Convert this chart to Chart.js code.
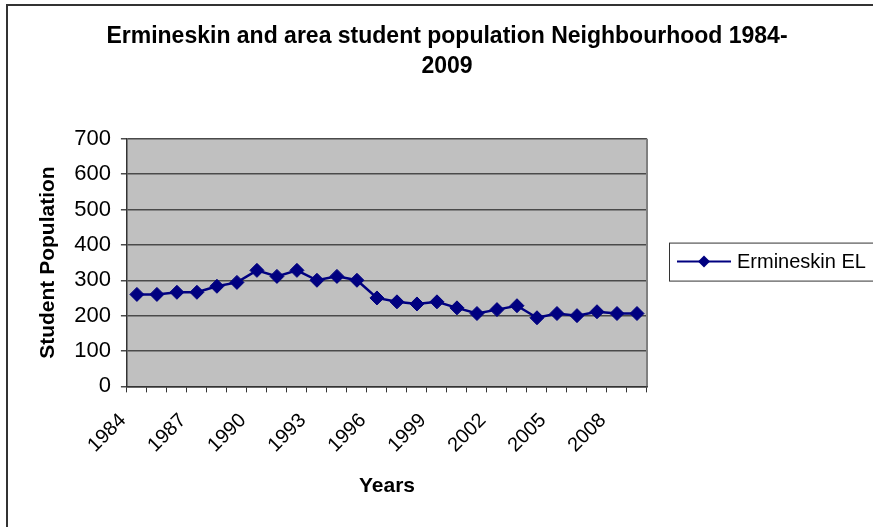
<!DOCTYPE html>
<html>
<head>
<meta charset="utf-8">
<script src="https://cdn.jsdelivr.net/npm/chart.js@4/dist/chart.umd.min.js"></script>
<style>
  html, body { margin: 0; padding: 0; background: #fff; }
  #wrap { width: 873px; height: 527px; }
</style>
</head>
<body>
<div id="wrap"><canvas id="chart" width="873" height="527"></canvas></div>
<script>
// years on the x axis
const years = ["1984", "1985", "1986", "1987", "1988", "1989", "1990", "1991", "1992",
    "1993", "1994", "1995", "1996", "1997", "1998", "1999", "2000", "2001",
    "2002", "2003", "2004", "2005", "2006", "2007", "2008", "2009"];
// student counts
const students = [260, 260, 266, 266, 283, 294, 328, 311, 328, 300, 311, 300, 250,
    239, 233, 239, 222, 206, 217, 228, 194, 206, 200, 211, 206, 206];
const seriesName = "Ermineskin EL";
const titleLines = ["Ermineskin and area student population Neighbourhood 1984-", "2009"];

const FONT = "'Liberation Sans', Arial, sans-serif";
const NAVY = "#000080";

// grey plot background + outer frame
const backdrop = {
    id: "backdrop",
    beforeDraw(chart) {
        const c = chart.ctx, a = chart.chartArea;
        c.save();
        c.fillStyle = "#c0c0c0";
        c.fillRect(a.left, a.top, a.right - a.left, a.bottom - a.top);
        c.strokeStyle = "#333";
        c.lineWidth = 2;
        c.strokeRect(7, 5, 900, 600);
        c.restore();
    },
    afterDatasetsDraw(chart) {
        const c = chart.ctx, a = chart.chartArea;
        c.save();
        c.strokeStyle = "#808080";
        c.lineWidth = 2;
        c.beginPath();
        c.moveTo(a.right, a.top);
        c.lineTo(a.right, a.bottom);
        c.stroke();
        c.restore();
    }
};

// legend box like the spreadsheet one (line with diamond)
const boxLegend = {
    id: "boxLegend",
    afterDraw(chart) {
        const c = chart.ctx, a = chart.chartArea;
        const ds = chart.data.datasets[0];
        const x = a.right + 22, y = (a.top + a.bottom) / 2 - 20;
        c.save();
        c.strokeStyle = "#333";
        c.lineWidth = 1;
        c.strokeRect(x + 0.5, y + 0.5, 210, 38);
        c.strokeStyle = ds.borderColor;
        c.lineWidth = 2;
        c.beginPath();
        c.moveTo(x + 8, y + 19);
        c.lineTo(x + 62, y + 19);
        c.stroke();
        c.fillStyle = ds.pointBackgroundColor;
        c.beginPath();
        c.moveTo(x + 35, y + 13);
        c.lineTo(x + 41, y + 19);
        c.lineTo(x + 35, y + 25);
        c.lineTo(x + 29, y + 19);
        c.closePath();
        c.fill();
        c.fillStyle = "#000";
        c.font = "20px " + FONT;
        c.textBaseline = "middle";
        c.fillText(ds.label, x + 68, y + 20);
        c.restore();
    }
};

new Chart(document.getElementById("chart").getContext("2d"), {
    type: "line",
    data: {
        labels: years,
        datasets: [{
            label: seriesName,
            data: students,
            borderColor: NAVY,
            borderWidth: 2.5,
            pointStyle: "rectRot",
            pointRadius: 7,
            pointBackgroundColor: NAVY,
            pointBorderColor: NAVY,
            pointBorderWidth: 1,
            tension: 0
        }]
    },
    options: {
        responsive: false,
        animation: false,
        layout: { padding: { left: 32, right: 11, top: 0, bottom: 24 } },
        plugins: {
            legend: { display: false },
            tooltip: { enabled: false },
            title: {
                display: true,
                text: titleLines,
                color: "#000",
                font: { family: FONT, size: 23, weight: "bold", lineHeight: 1.3 },
                padding: { top: 22, bottom: 57 }
            }
        },
        scales: {
            x: {
                offset: true,
                grid: { display: true, drawOnChartArea: false, offset: true, color: "#333", tickLength: 6, lineWidth: 1 },
                border: { color: "#333", width: 1.5 },
                ticks: {
                    autoSkip: false,
                    maxRotation: 45,
                    minRotation: 45,
                    padding: 16.5,
                    labelOffset: -14,
                    color: "#000",
                    font: { family: FONT, size: 20 },
                    callback: function (v, i) { return i % 3 === 0 ? years[i] : ""; }
                },
                title: {
                    display: true,
                    text: "Years",
                    color: "#000",
                    font: { family: FONT, size: 21, weight: "bold" },
                    padding: { top: 0 }
                }
            },
            y: {
                min: 0,
                max: 700,
                ticks: { stepSize: 100, color: "#000", font: { family: FONT, size: 22 }, padding: 10 },
                grid: { color: "#4a4a4a", lineWidth: 1.5, tickLength: 6 },
                border: { color: "#333", width: 1.5 },
                title: {
                    display: true,
                    text: "Student Population",
                    color: "#000",
                    font: { family: FONT, size: 21, weight: "bold" },
                    padding: { bottom: 3 }
                }
            },
            // empty right-hand axis that only keeps room for the legend box
            side: {
                position: "right",
                display: true,
                grid: { display: false },
                border: { display: false },
                ticks: { display: false },
                afterFit: function (scale) { scale.width = 215; }
            }
        }
    },
    plugins: [backdrop, boxLegend]
});
</script>
</body>
</html>
